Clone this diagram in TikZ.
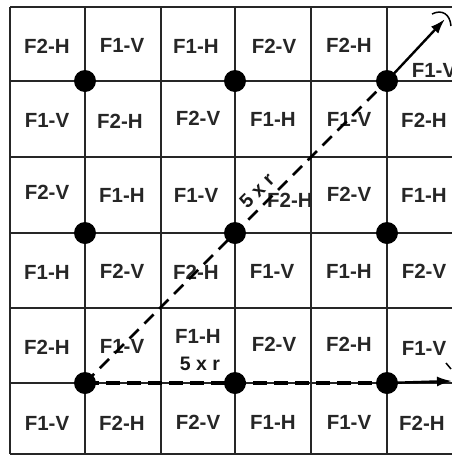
\documentclass[tikz,border=0pt]{standalone}
\usepackage{fontspec}
\setmainfont{Liberation Sans}
\usetikzlibrary{arrows.meta}
\begin{document}
\begin{tikzpicture}[x=1pt,y=-1pt,
  gridline/.style={line width=1.8pt,draw=black!85},
  lbl/.style={inner sep=0pt,font=\fontsize{20.5}{21}\selectfont\bfseries,text=black!85},
  rlbl/.style={inner sep=0pt,font=\fontsize{19.5}{20}\selectfont\bfseries,text=black!90},
  dotnode/.style={circle,fill=black,inner sep=0pt,minimum size=22pt},
  dasharrow/.style={line width=2.6pt,dash pattern=on 13pt off 8pt,draw=black},
  hdasharrow/.style={line width=3.6pt,dash pattern=on 14pt off 7pt,draw=black},
  solidarrow/.style={line width=2.4pt,draw=black,-{Latex[length=15pt,width=10pt]}}]
\useasboundingbox (0,0) rectangle (452,456);
\begin{scope}
\clip (0,0) rectangle (452,456);
% grid
\foreach \x in {10,85,161,235,311,387} \draw[gridline] (\x,7) -- (\x,454);
\foreach \y in {7,81,157,233,308,383,454} \draw[gridline] (10,\y) -- (460,\y);
% labels row 1
\node[lbl] (l11) at (47,46) {F2-H};
\node[lbl] (l12) at (122,45) {F1-V};
\node[lbl] (l13) at (196,46) {F1-H};
\node[lbl] (l14) at (274,46) {F2-V};
\node[lbl] (l15) at (349,45) {F2-H};
\node[lbl] (l16) at (434,70) {F1-V};
% row 2
\node[lbl] (l21) at (47,120) {F1-V};
\node[lbl] (l22) at (120,121) {F2-H};
\node[lbl] (l23) at (198,118) {F2-V};
\node[lbl] (l24) at (273,119) {F1-H};
\node[lbl] (l25) at (349,119) {F1-V};
\node[lbl] (l26) at (424,120) {F2-H};
% row 3
\node[lbl] (l31) at (47,192) {F2-V};
\node[lbl] (l32) at (122,195) {F1-H};
\node[lbl] (l33) at (196,195) {F1-V};
\node[lbl] (l34) at (290,200) {F2-H};
\node[lbl] (l35) at (349,194) {F2-V};
\node[lbl] (l36) at (424,195) {F1-H};
% row 4
\node[lbl] (l41) at (47,272) {F1-H};
\node[lbl] (l42) at (122,271) {F2-V};
\node[lbl] (l43) at (196,272) {F2-H};
\node[lbl] (l44) at (272,271) {F1-V};
\node[lbl] (l45) at (349,271) {F1-H};
\node[lbl] (l46) at (424,271) {F2-V};
% row 5
\node[lbl] (l51) at (47,347) {F2-H};
\node[lbl] (l52) at (122,346) {F1-V};
\node[lbl] (l53) at (198,336) {F1-H};
\node[lbl] (l54) at (274,344) {F2-V};
\node[lbl] (l55) at (349,344) {F2-H};
\node[lbl] (l56) at (424,348) {F1-V};
% row 6
\node[lbl] (l61) at (47,423) {F1-V};
\node[lbl] (l62) at (122,423) {F2-H};
\node[lbl] (l63) at (198,422) {F2-V};
\node[lbl] (l64) at (273,422) {F1-H};
\node[lbl] (l65) at (349,422) {F1-V};
\node[lbl] (l66) at (422,423) {F2-H};
% distance labels
\node[rlbl] (rh) at (200,364) {5 x r};
\node[rlbl,rotate=45] (rd) at (257,191) {5 x r};
% dots
\node[dotnode] (d11) at (85,81) {};
\node[dotnode] (d12) at (235,81) {};
\node[dotnode] (d13) at (387,81) {};
\node[dotnode] (d21) at (85,233) {};
\node[dotnode] (d22) at (235,233) {};
\node[dotnode] (d23) at (387,233) {};
\node[dotnode] (d31) at (85,383) {};
\node[dotnode] (d32) at (235,383) {};
\node[dotnode] (d33) at (387,383) {};
\coordinate (tipd) at (445,19);
\coordinate (tiph) at (452,381);
% connectors
\draw[dasharrow] (d31.center) -- (d13.center);
\draw[solidarrow] (d13.center) -- (tipd);
\draw[hdasharrow] (d31.center) -- (d33.center);
\draw[solidarrow] (d33.center) -- (tiph);
% rotation marks
\draw[line width=1.5pt] (432,14) .. controls (442,9) and (450,14) .. (451,26);
\draw[line width=1.5pt] (446,363) -- (451,369);
\end{scope}
\end{tikzpicture}
\end{document}
